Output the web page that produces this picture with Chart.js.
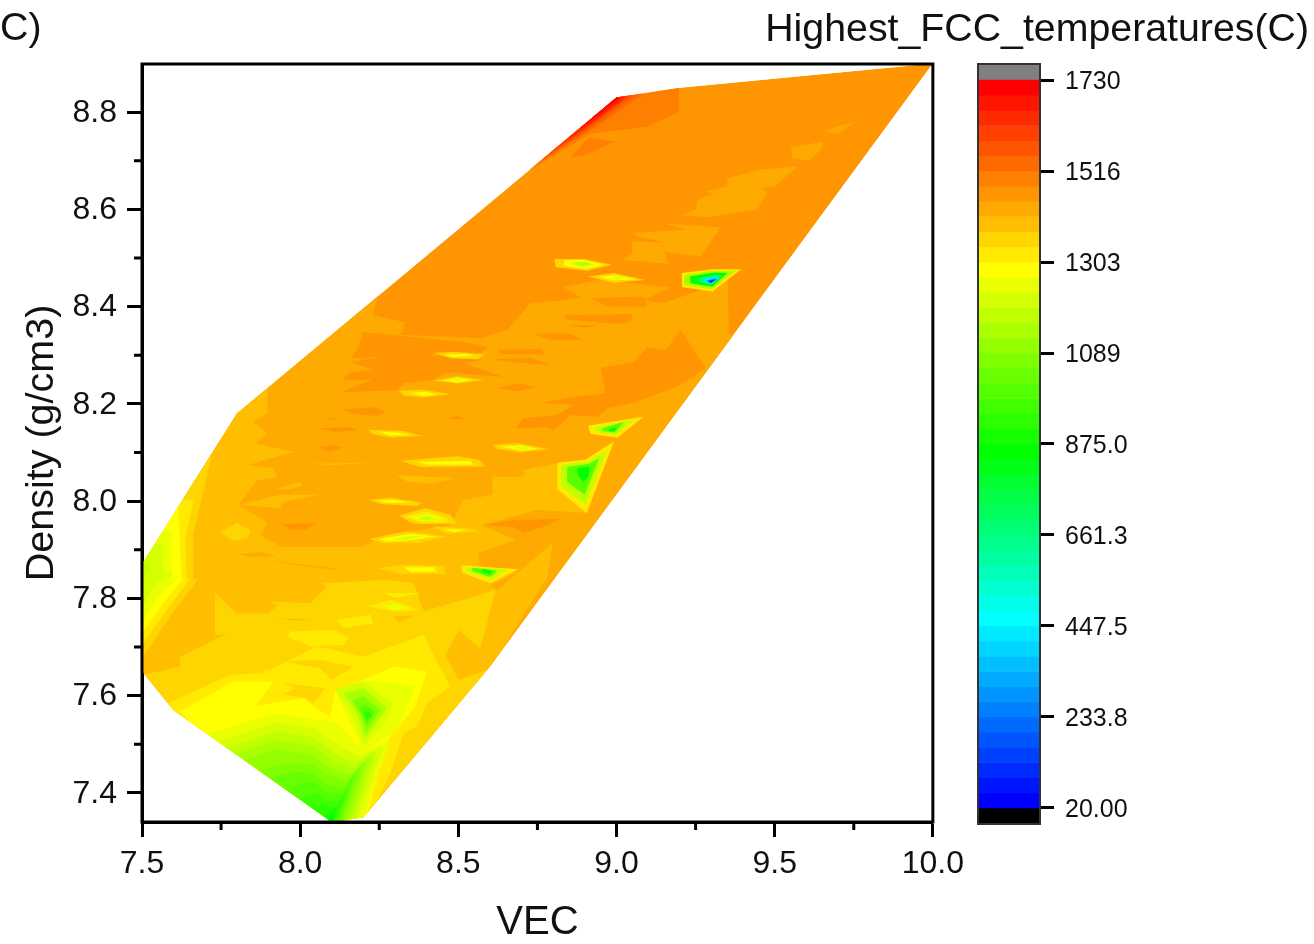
<!DOCTYPE html>
<html>
<head>
<meta charset="utf-8">
<title>Highest FCC temperatures</title>
<script src="https://cdn.jsdelivr.net/npm/chart.js@4"></script>
<style>
    html, body { margin: 0; padding: 0; background: #fff; overflow: hidden; }
    #page { position: relative; width: 1314px; height: 944px; overflow: hidden; filter: blur(0.7px); }
    #main { position: absolute; left: 0; top: 0; }
    #bar { position: absolute; left: 960px; top: 0; }
    .lbl { position: absolute; font-family: "Liberation Sans", Arial, sans-serif; font-size: 39.3px; color: #111; white-space: nowrap; line-height: 1; }
</style>
</head>
<body>
<div id="page">
    <canvas id="main" width="972" height="944"></canvas>
    <canvas id="bar" width="354" height="944"></canvas>
    <div class="lbl" style="left:0;top:7px">C)</div>
    <div class="lbl" style="right:5px;top:8px">Highest_FCC_temperatures(C)</div>
</div>
<script>
// ── axis + colour bar values ──
const xTicks = [7.5, 8.0, 8.5, 9.0, 9.5, 10.0];
const xMinor = [7.75, 8.25, 8.75, 9.25, 9.75];
const yTicks = [7.4, 7.6, 7.8, 8.0, 8.2, 8.4, 8.6, 8.8];
const yMinor = [7.5, 7.7, 7.9, 8.1, 8.3, 8.5, 8.7];
const barTicks = [20, 233.75, 447.5, 661.25, 875, 1088.75, 1302.5, 1516.25, 1730];
const barEdges = [1730.0, 1694.4, 1658.8, 1623.1, 1587.5, 1551.9, 1516.3, 1480.6, 1445.0, 1409.4, 1373.8, 1338.1,
    1302.5, 1266.9, 1231.3, 1195.6, 1160.0, 1124.4, 1088.8, 1053.1, 1017.5, 981.9, 946.3, 910.6, 875.0, 839.4, 803.8,
    768.1, 732.5, 696.9, 661.3, 625.6, 590.0, 554.4, 518.8, 483.1, 447.5, 411.9, 376.3, 340.6, 305.0, 269.4, 233.8,
    198.1, 162.5, 126.9, 91.3, 55.6, 20.0];

// ── contour outlines: [VEC, density] ──
const hullOutline = [[7.5,7.65],[7.6,7.57],[8.1,7.34],[8.2,7.35],[8.6,7.66],[10,8.9],[9.2,8.85],[9,8.83],[7.8,8.18],[7.5,7.87]];
const midZone = [[7.7,8.1],[7.8,8.3],[8.247,8.5],[8.247,8.422],[8.228,8.383],[8.332,8.368],[8.317,8.342],[8.57,8.335],[8.655,8.352],[8.728,8.407],[8.832,8.413],[8.886,8.42],[8.832,8.44],[8.94,8.455],[9.171,8.44],[9.086,8.413],[9.149,8.407],[9.352,8.455],[9.355,8.342],[9.45,8.34],[8.7,7.6],[8.2,7.3],[7.5,7.3],[7.4,7.7]];
const darkMid = [[8.199,8.348],[8.516,8.327],[8.595,8.317],[8.57,8.305],[8.427,8.307],[8.418,8.3],[8.579,8.29],[8.516,8.284],[8.643,8.255],[8.465,8.265],[8.418,8.249],[8.326,8.243],[8.307,8.228],[8.127,8.224],[8.228,8.249],[8.133,8.249],[8.158,8.265],[8.231,8.27],[8.158,8.286],[8.253,8.296],[8.158,8.294],[8.184,8.315]];
const darkRight = [[9.203,8.352],[9.282,8.274],[9.203,8.239],[9.054,8.202],[8.972,8.191],[8.94,8.173],[8.855,8.177],[8.801,8.146],[8.782,8.152],[8.681,8.15],[8.706,8.171],[8.813,8.177],[8.864,8.198],[8.76,8.202],[8.864,8.214],[8.965,8.222],[8.95,8.274],[9.054,8.286],[9.098,8.317],[9.155,8.311]];
const darkSmall = [
    [[8.136,8.189],[8.237,8.193],[8.269,8.185],[8.247,8.175],[8.165,8.179]],
    [[8.054,8.15],[8.158,8.152],[8.18,8.146],[8.111,8.142]],
    [[8.054,8.111],[8.095,8.115],[8.136,8.111],[8.095,8.101]],
    [[8.079,8.171],[8.127,8.169],[8.1,8.166]],
    [[8.459,8.171],[8.5,8.175],[8.529,8.167]],
    [[8.623,8.233],[8.696,8.243],[8.744,8.233],[8.68,8.226]],
    [[8.737,8.344],[8.855,8.344],[8.896,8.331],[8.791,8.331]],
    [[8.623,8.311],[8.76,8.313],[8.778,8.302],[8.633,8.302]],
    [[8.601,8.292],[8.728,8.294],[8.791,8.28],[8.665,8.286]],
    [[8.579,7.951],[8.674,7.961],[8.823,7.963],[8.769,7.947],[8.706,7.934],[8.674,7.947]],
    [[8.834,8.383],[9.05,8.385],[9.045,8.369],[9.002,8.364],[8.839,8.374]],
    [[8.849,8.362],[8.944,8.362],[8.897,8.356]],
    [[8.918,8.417],[9.087,8.421],[9.097,8.4],[8.971,8.4]]
];
const upperLight = [
    [[9.656,8.76],[9.709,8.773],[9.751,8.778],[9.699,8.755]],
    [[9.551,8.728],[9.651,8.739],[9.651,8.725],[9.609,8.7],[9.556,8.705]],
    [[9.35,8.664],[9.456,8.682],[9.572,8.688],[9.503,8.648],[9.456,8.643],[9.477,8.636],[9.445,8.599],[9.361,8.592],[9.287,8.584],[9.208,8.588],[9.25,8.599],[9.256,8.619],[9.277,8.626],[9.308,8.63],[9.282,8.638],[9.35,8.647]],
    [[9.055,8.552],[9.224,8.558],[9.15,8.571],[9.329,8.563],[9.266,8.503],[9.15,8.513],[9.166,8.488],[9.018,8.496],[9.052,8.51],[9.05,8.534],[9.161,8.532],[9.066,8.544]]
];
const hotEdge = [
    [6, [[8.6,8.9],[8.728,8.681],[8.918,8.756],[9.097,8.77],[9.197,8.801],[9.197,8.9]]],
    [5, [[8.6,8.9],[8.728,8.684],[8.834,8.729],[8.928,8.767],[9.081,8.835],[9,8.9]]],
    [4, [[8.6,8.9],[8.77,8.703],[8.834,8.732],[8.928,8.773],[9.055,8.833],[9,8.9]]],
    [3, [[8.6,8.9],[8.791,8.716],[8.834,8.735],[8.928,8.778],[9.039,8.832],[9,8.9]]],
    [2, [[8.6,8.9],[8.855,8.747],[8.934,8.784],[9.029,8.83],[9,8.9]]],
    [1, [[8.6,8.9],[8.886,8.767],[8.944,8.792],[9.018,8.83],[9,8.9]]],
    [0, [[8.6,8.9],[8.928,8.789],[8.96,8.806],[9.01,8.83],[9,8.9]]],
    [6, [[8.913,8.748],[8.992,8.739],[8.902,8.712],[8.855,8.707]]]
];
const lowerZone = [[7.693,7.844],[7.873,7.934],[7.915,7.906],[8.199,7.906],[8.269,7.93],[8.475,7.951],[8.516,8.002],[8.608,8.013],[8.608,8.05],[8.706,8.05],[8.706,8.064],[8.813,8.078],[8.918,8.064],[8.902,7.976],[8.75,7.982],[8.633,7.961],[8.57,7.951],[8.681,7.92],[8.56,7.893],[8.57,7.865],[8.687,7.854],[8.601,7.827],[8.624,7.817],[8.798,7.914],[8.782,7.844],[8.617,7.673],[8.2,7.3],[7.5,7.3],[7.45,7.7],[7.45,7.844]];
const westZone = [[7.8,8.3],[7.896,8.3],[7.896,8.228],[7.896,8.181],[7.851,8.163],[7.896,8.14],[7.858,8.119],[7.978,8.101],[7.835,8.074],[7.915,8.068],[7.927,8.05],[7.864,8.043],[7.804,7.992],[7.896,7.957],[7.873,7.926],[7.927,7.914],[7.915,7.88],[7.694,7.838],[7.599,7.745],[7.504,7.667],[7.4,7.66],[7.4,8.2]];
const lowerStreaks = [
    [[8.016,8.077],[8.237,8.079],[8.095,8.074]],
    [[8.306,8.053],[8.491,8.047],[8.411,8.036],[8.338,8.04]],
    [[7.804,7.992],[7.937,8.013],[8.063,8.013],[7.943,7.998],[7.937,7.986]],
    [[7.927,8.027],[8,8.039],[8.01,8.031],[7.953,8.023]]
];
const thinStreaks = [
    [[7.804,7.891],[7.873,7.895],[7.927,7.887],[7.842,7.885]],
    [[7.896,7.879],[8.111,7.862],[8.117,7.858],[8,7.867]]
];
const deepPatch = [[7.946,7.953],[8.048,7.955],[8.016,7.941],[7.968,7.941]];
const leftFringe = [
    [10, [[7.72,8.091],[7.662,7.933],[7.662,7.838],[7.678,7.841],[7.589,7.763],[7.504,7.68],[7.4,7.68],[7.4,8.1]]],
    [11, [[7.662,8.002],[7.636,7.92],[7.641,7.838],[7.652,7.841],[7.578,7.776],[7.504,7.708],[7.4,7.708],[7.4,8.0]]],
    [12, [[7.615,7.988],[7.62,7.913],[7.625,7.838],[7.636,7.845],[7.567,7.79],[7.504,7.732],[7.4,7.732],[7.4,7.99]]],
    [13, [[7.594,7.94],[7.594,7.838],[7.62,7.848],[7.552,7.804],[7.504,7.756],[7.4,7.756],[7.4,7.94]]],
    [14, [[7.567,7.913],[7.562,7.872],[7.583,7.838],[7.594,7.858],[7.536,7.824],[7.504,7.783],[7.4,7.783],[7.4,7.91]]],
    [15, [[7.525,7.872],[7.531,7.838],[7.525,7.858],[7.504,7.838],[7.4,7.838],[7.4,7.87]]]
];
const goldField = [[7.509,7.643],[7.62,7.66],[7.62,7.68],[7.763,7.725],[7.731,7.725],[7.731,7.811],[7.8,7.769],[7.9,7.769],[7.931,7.787],[7.905,7.793],[8.032,7.79],[8.084,7.824],[8.069,7.831],[8.274,7.838],[8.359,7.831],[8.39,7.773],[8.617,7.817],[8.57,7.697],[8.501,7.735],[8.459,7.684],[8.501,7.632],[8.62,7.66],[8.211,7.34],[8.095,7.33],[7.604,7.55],[7.45,7.64]];
const yellowField = [[7.583,7.584],[7.779,7.643],[7.884,7.646],[7.958,7.67],[8.053,7.701],[8.201,7.68],[8.39,7.725],[8.433,7.667],[8.475,7.619],[8.401,7.584],[8.369,7.536],[8.459,7.567],[8.327,7.523],[8.285,7.441],[8.211,7.34],[8.095,7.33],[7.604,7.55]];
const goldBlobs = [
    [[7.958,7.67],[8.053,7.674],[8.169,7.66],[8.1,7.632],[8.063,7.656],[7.968,7.667]],
    [[7.947,7.626],[8.079,7.615],[8.042,7.584],[8.016,7.595],[7.947,7.602],[7.984,7.615]],
    [[7.747,7.936],[7.8,7.955],[7.844,7.94],[7.837,7.925],[7.789,7.918]]
];
const yellowBlobs = [
    [[7.968,7.732],[8.106,7.735],[8.153,7.718],[8.137,7.704],[8.037,7.701],[7.958,7.721]],
    [[8.116,7.756],[8.222,7.766],[8.232,7.749],[8.137,7.739]],
    [[7.879,7.653],[7.953,7.651],[7.905,7.645]],
    [[8.264,7.811],[8.38,7.811],[8.306,7.8]],
    [[8.216,7.783],[8.285,7.797],[8.375,7.776],[8.306,7.773]]
];
const orangeBits = [
    [[7.926,7.759],[8.037,7.757],[7.99,7.754]],
    [[8.295,7.763],[8.359,7.764],[8.311,7.749]]
];
const brightField = [[7.62,7.567],[7.789,7.629],[7.916,7.629],[7.858,7.578],[8.011,7.595],[8.048,7.574],[8.095,7.557],[8.111,7.612],[8.201,7.632],[8.295,7.66],[8.401,7.65],[8.364,7.578],[8.274,7.506],[8.206,7.34],[8.095,7.33],[7.715,7.5]];
const greenFan = [
    [13, [[7.705,7.521],[7.926,7.564],[8.042,7.551],[8.111,7.546],[8.201,7.485],[8.285,7.509],[8.19,7.33],[8.09,7.33]]],
    [14, [[7.74,7.505],[7.926,7.545],[8.042,7.533],[8.127,7.495],[8.19,7.474],[8.264,7.498],[8.174,7.33],[8.09,7.33]]],
    [15, [[7.767,7.492],[7.926,7.527],[8.042,7.514],[8.116,7.478],[8.18,7.461],[8.243,7.488],[8.164,7.33],[8.09,7.33]]],
    [16, [[7.794,7.48],[7.926,7.508],[8.042,7.496],[8.106,7.464],[8.169,7.45],[8.227,7.478],[8.153,7.33],[8.09,7.33]]],
    [17, [[7.822,7.467],[7.926,7.49],[8.042,7.477],[8.095,7.45],[8.158,7.437],[8.211,7.468],[8.143,7.33],[8.09,7.33]]],
    [18, [[7.871,7.444],[7.947,7.461],[8.042,7.459],[8.085,7.437],[8.148,7.423],[8.195,7.457],[8.132,7.33],[8.09,7.33]]],
    [19, [[7.906,7.429],[7.979,7.444],[8.042,7.44],[8.079,7.42],[8.137,7.409],[8.18,7.447],[8.125,7.33],[8.09,7.33]]],
    [20, [[7.952,7.407],[8.011,7.42],[8.048,7.42],[8.074,7.403],[8.132,7.396],[8.167,7.433],[8.116,7.33],[8.09,7.33]]],
    [21, [[7.996,7.387],[8.037,7.396],[8.058,7.399],[8.085,7.385],[8.121,7.382],[8.153,7.413],[8.111,7.33],[8.09,7.33]]],
    [22, [[8.035,7.369],[8.064,7.375],[8.074,7.379],[8.111,7.365],[8.137,7.392],[8.104,7.33],[8.09,7.33]]],
    [23, [[8.071,7.352],[8.083,7.355],[8.095,7.361],[8.116,7.372],[8.1,7.33],[8.09,7.33]]],
    [24, [[8.085,7.344],[8.106,7.358],[8.098,7.33],[8.085,7.33]]]
];
const spotLow = [
    [13, [[8.201,7.632],[8.364,7.619],[8.306,7.53],[8.201,7.485],[8.148,7.557],[8.111,7.612]]],
    [14, [[8.111,7.612],[8.201,7.629],[8.295,7.584],[8.274,7.55],[8.201,7.499],[8.164,7.557]]],
    [16, [[8.137,7.605],[8.201,7.615],[8.274,7.574],[8.206,7.513],[8.179,7.564]]],
    [18, [[8.164,7.591],[8.201,7.598],[8.253,7.571],[8.209,7.526],[8.19,7.564]]],
    [20, [[8.185,7.574],[8.206,7.581],[8.237,7.567],[8.211,7.54],[8.198,7.56]]],
    [22, [[8.2,7.564],[8.216,7.567],[8.227,7.56],[8.211,7.55]]]
];
const midSpots = [
    [10, [[8.428,8.304],[8.486,8.307],[8.586,8.301],[8.56,8.292],[8.475,8.294]]],
    [12, [[8.454,8.301],[8.528,8.303],[8.549,8.299],[8.486,8.296]]],
    [10, [[8.422,8.248],[8.496,8.257],[8.581,8.249],[8.496,8.242]]],
    [12, [[8.449,8.248],[8.496,8.253],[8.544,8.249],[8.496,8.244]]],
    [14, [[8.486,8.249],[8.502,8.252],[8.517,8.249],[8.502,8.247]]],
    [10, [[8.312,8.227],[8.391,8.229],[8.475,8.22],[8.391,8.213],[8.327,8.217]]],
    [12, [[8.343,8.222],[8.391,8.225],[8.433,8.22],[8.391,8.216]]],
    [10, [[8.217,8.147],[8.327,8.144],[8.385,8.134],[8.285,8.131],[8.227,8.138]]],
    [12, [[8.248,8.143],[8.306,8.141],[8.349,8.136],[8.285,8.135]]],
    [10, [[8.607,8.116],[8.686,8.119],[8.786,8.107],[8.697,8.1],[8.623,8.107]]],
    [12, [[8.633,8.112],[8.697,8.115],[8.755,8.107],[8.697,8.104]]],
    [14, [[8.676,8.111],[8.718,8.112],[8.728,8.108],[8.697,8.106]]],
    [10, [[8.317,8.083],[8.496,8.092],[8.565,8.085],[8.586,8.071],[8.38,8.07]]],
    [12, [[8.37,8.081],[8.538,8.083],[8.549,8.075],[8.401,8.075]]],
    [10, [[8.217,8.003],[8.285,8.007],[8.385,7.997],[8.37,7.99],[8.254,7.994]]],
    [12, [[8.243,8.001],[8.296,8.003],[8.349,7.997],[8.275,7.996]]],
    [10, [[8.312,7.97],[8.396,7.986],[8.475,7.972],[8.496,7.953],[8.359,7.953]]],
    [11, [[8.333,7.968],[8.396,7.979],[8.465,7.965],[8.465,7.956],[8.38,7.957]]],
    [13, [[8.349,7.967],[8.401,7.974],[8.449,7.964],[8.391,7.959]]],
    [15, [[8.375,7.965],[8.407,7.968],[8.428,7.963],[8.396,7.96]]],
    [10, [[8.217,7.922],[8.338,7.938],[8.465,7.927],[8.37,7.914],[8.264,7.914]]],
    [12, [[8.248,7.922],[8.349,7.933],[8.433,7.927],[8.338,7.919],[8.275,7.917]]],
    [14, [[8.285,7.92],[8.354,7.929],[8.396,7.927],[8.327,7.92]]],
    [10, [[8.417,7.948],[8.549,7.943],[8.565,7.938],[8.465,7.933]]],
    [12, [[8.454,7.942],[8.528,7.941],[8.486,7.936]]],
    [10, [[8.243,7.862],[8.327,7.869],[8.454,7.867],[8.459,7.85],[8.317,7.85]]],
    [12, [[8.327,7.864],[8.422,7.864],[8.433,7.855],[8.349,7.854]]],
    [13, [[8.264,7.783],[8.295,7.79],[8.338,7.78],[8.295,7.776]]]
];
const greenSpots = [
    [11, [[8.509,7.868],[8.691,7.86],[8.602,7.831],[8.512,7.853]]],
    [15, [[8.526,7.864],[8.655,7.859],[8.602,7.838],[8.526,7.855]]],
    [20, [[8.544,7.863],[8.623,7.857],[8.6,7.844],[8.544,7.856]]],
    [24, [[8.575,7.861],[8.607,7.857],[8.6,7.85],[8.575,7.855]]],
    [11, [[8.813,8.079],[8.902,8.085],[8.992,8.123],[8.906,7.975],[8.813,8.025]]],
    [15, [[8.825,8.075],[8.908,8.081],[8.971,8.105],[8.902,7.992],[8.825,8.03]]],
    [20, [[8.844,8.07],[8.913,8.077],[8.945,8.088],[8.899,8.013],[8.844,8.04]]],
    [24, [[8.876,8.068],[8.913,8.071],[8.913,8.051],[8.895,8.04],[8.878,8.054]]],
    [11, [[8.91,8.155],[9.087,8.174],[9.003,8.131],[8.918,8.138]]],
    [15, [[8.929,8.151],[9.055,8.168],[8.998,8.136],[8.934,8.143]]],
    [20, [[8.955,8.15],[9.024,8.163],[8.994,8.141],[8.955,8.144]]],
    [24, [[8.976,8.148],[9.003,8.153],[8.994,8.144],[8.976,8.144]]]
];
const upperSpots = [
    [10, [[8.804,8.498],[8.897,8.498],[8.986,8.486],[8.907,8.474],[8.807,8.481]]],
    [12, [[8.834,8.495],[8.897,8.496],[8.96,8.486],[8.902,8.478],[8.834,8.484]]],
    [14, [[8.855,8.491],[8.902,8.493],[8.934,8.486],[8.897,8.481],[8.855,8.486]]],
    [16, [[8.87,8.491],[8.902,8.492],[8.918,8.487],[8.886,8.484]]],
    [10, [[8.909,8.462],[8.992,8.469],[9.092,8.455],[8.992,8.449]]],
    [12, [[8.939,8.462],[8.997,8.464],[9.066,8.456],[8.992,8.454]]],
    [14, [[8.976,8.46],[9.008,8.461],[9.029,8.457],[8.992,8.456]]],
    [11, [[9.206,8.469],[9.303,8.477],[9.395,8.477],[9.303,8.431],[9.208,8.44]]],
    [16, [[9.213,8.465],[9.306,8.474],[9.377,8.474],[9.303,8.436],[9.215,8.444]]],
    [24, [[9.232,8.462],[9.308,8.47],[9.35,8.469],[9.303,8.441],[9.234,8.448]]],
    [30, [[9.256,8.458],[9.314,8.465],[9.335,8.463],[9.3,8.445],[9.261,8.451]]],
    [36, [[9.271,8.456],[9.315,8.462],[9.324,8.46],[9.298,8.447],[9.275,8.452]]],
    [42, [[9.285,8.453],[9.314,8.458],[9.314,8.455],[9.298,8.448]]],
    [47, [[9.292,8.453],[9.31,8.455],[9.298,8.449]]]
];

// band 0 is the red one under 1730, band 47 the blue one above 20
function bandColor(k) {
    if (k <= 12) return `rgb(255,${Math.round(k * 21.25)},0)`;
    if (k <= 24) return `rgb(${Math.round(255 - (k - 12) * 21.25)},255,0)`;
    if (k <= 35) return `rgb(0,255,${Math.round((k - 24) * 23.2)})`;
    return `rgb(0,${Math.round(255 - (k - 35) * 21.25)},255)`;
}

const withBand = (k, list) => list.map(p => [k, p]);
const layers = [
    [7, hullOutline], [8, midZone],
    ...withBand(7, [darkMid, darkRight]), ...withBand(7, darkSmall),
    ...withBand(8, upperLight), ...hotEdge,
    [9, lowerZone], [9, westZone], ...withBand(9, lowerStreaks), ...withBand(8, thinStreaks), [7, deepPatch], ...leftFringe,
    [10, goldField], [11, yellowField], ...withBand(10, goldBlobs), ...withBand(11, yellowBlobs), ...withBand(9, orangeBits),
    [12, brightField], ...greenFan, ...spotLow,
    ...midSpots, ...greenSpots, ...upperSpots
];

const FONT = '"Liberation Sans", Arial, sans-serif';
const INK = '#111';

// contours stop at the data hull
const hullClip = {
    id: 'hullClip',
    beforeDatasetsDraw(chart) {
        const { ctx, scales: { x, y } } = chart;
        ctx.save();
        ctx.beginPath();
        hullOutline.forEach((p, i) => {
            const px = x.getPixelForValue(p[0]), py = y.getPixelForValue(p[1]);
            if (i) ctx.lineTo(px, py); else ctx.moveTo(px, py);
        });
        ctx.closePath();
        ctx.clip();
    },
    afterDatasetsDraw(chart) {
        chart.ctx.restore();
    }
};

// short minor ticks and the top/right frame
const frame = {
    id: 'frame',
    afterDraw(chart) {
        const { ctx, chartArea: a, scales: { x, y } } = chart;
        ctx.save();
        ctx.strokeStyle = '#000';
        ctx.lineWidth = 3;
        ctx.strokeRect(a.left, a.top, a.right - a.left, a.bottom - a.top);
        ctx.beginPath();
        xMinor.forEach(v => {
            ctx.moveTo(x.getPixelForValue(v), a.bottom);
            ctx.lineTo(x.getPixelForValue(v), a.bottom + 8);
        });
        yMinor.forEach(v => {
            ctx.moveTo(a.left, y.getPixelForValue(v));
            ctx.lineTo(a.left - 8, y.getPixelForValue(v));
        });
        ctx.stroke();
        ctx.restore();
    }
};

new Chart(document.getElementById('main'), {
    type: 'scatter',
    plugins: [hullClip, frame],
    data: {
        datasets: layers.map((l, i) => ({
            data: l[1].map(p => ({ x: p[0], y: p[1] })),
            showLine: true,
            fill: 'shape',
            tension: 0,
            pointRadius: 0,
            borderWidth: 0,
            backgroundColor: bandColor(l[0]),
            order: layers.length - i
        }))
    },
    options: {
        responsive: false,
        animation: false,
        events: [],
        layout: { padding: { top: 64, right: 28 } },
        plugins: { legend: { display: false }, tooltip: { enabled: false } },
        scales: {
            x: {
                type: 'linear', min: 7.5, max: 10,
                afterBuildTicks: s => { s.ticks = xTicks.map(v => ({ value: v })); },
                afterFit: s => { s.height = 122; },
                border: { display: true, width: 3, color: '#000' },
                grid: { drawOnChartArea: false, tickLength: 15, tickWidth: 3, tickColor: '#000' },
                ticks: { font: { family: FONT, size: 32 }, color: INK, padding: 8, maxRotation: 0, callback: v => v.toFixed(1) },
                title: { display: true, text: 'VEC', font: { family: FONT, size: 40 }, color: INK, padding: { top: 0, bottom: -3 } }
            },
            y: {
                type: 'linear', min: 7.34, max: 8.899,
                afterBuildTicks: s => { s.ticks = yTicks.map(v => ({ value: v })); },
                afterFit: s => { s.width = 142; },
                border: { display: true, width: 3, color: '#000' },
                grid: { drawOnChartArea: false, tickLength: 15, tickWidth: 3, tickColor: '#000' },
                ticks: { font: { family: FONT, size: 32 }, color: INK, padding: 10, labelOffset: 1, callback: v => v.toFixed(1) },
                title: { display: true, text: 'Density (g/cm3)', font: { family: FONT, size: 39.5 }, color: INK, padding: { top: 18, bottom: 0 } }
            }
        }
    }
});

// ── colour bar ──
const barSets = barEdges.slice(1).map((lo, k) => ({ data: [[lo, barEdges[k]]], backgroundColor: bandColor(k) }));
barSets.push({ data: [[1730, 1767.6]], backgroundColor: '#808080' });
barSets.push({ data: [[-17.6, 20]], backgroundColor: '#000' });

new Chart(document.getElementById('bar'), {
    type: 'bar',
    data: { labels: [''], datasets: barSets },
    options: {
        responsive: false,
        animation: false,
        events: [],
        layout: { padding: { top: 64, bottom: 120, left: 18 } },
        datasets: { bar: { barPercentage: 1, categoryPercentage: 1, grouped: false, borderWidth: 0 } },
        plugins: { legend: { display: false }, tooltip: { enabled: false } },
        scales: {
            x: { display: false },
            y: {
                position: 'right', min: -17.6, max: 1767.6,
                afterBuildTicks: s => { s.ticks = barTicks.map(v => ({ value: v })); },
                afterFit: s => { s.width = 354 - 18 - 62; },
                border: { display: true, width: 2, color: '#000' },
                grid: { drawOnChartArea: false, tickLength: 14, tickWidth: 3, tickColor: '#000' },
                ticks: { font: { family: FONT, size: 25 }, color: INK, padding: 11, labelOffset: 2, callback: v => v.toPrecision(4) }
            }
        }
    },
    plugins: [{
        id: 'barFrame',
        afterDraw(chart) {
            const { ctx, chartArea: a } = chart;
            ctx.save();
            ctx.strokeStyle = '#333';
            ctx.lineWidth = 2;
            ctx.strokeRect(a.left, a.top, a.right - a.left, a.bottom - a.top);
            ctx.restore();
        }
    }]
});
</script>
</body>
</html>
